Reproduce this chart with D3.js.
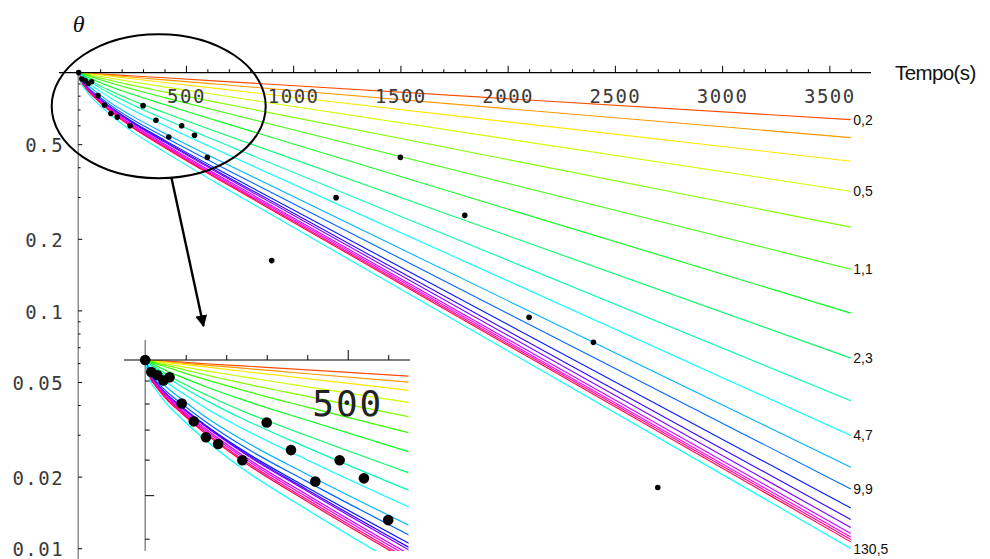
<!DOCTYPE html>
<html>
<head>
<meta charset="utf-8">
<script src="https://cdn.jsdelivr.net/npm/d3@7"></script>
<style>
  html, body { margin: 0; padding: 0; background: #fff; }
  svg { display: block; }
</style>
</head>
<body>
<svg id="chart" width="990" height="559"></svg>
<script>
// Sampling instants (s) shared by every cooling curve
const times = [0, 12, 25, 50, 90, 150, 240, 400, 650, 3600];

// Dimensionless temperature θ of each curve at the instants above
const curves = [
  [1, 0.998, 0.997, 0.994, 0.989, 0.981, 0.970, 0.951, 0.921, 0.634],
  [1, 0.998, 0.996, 0.991, 0.984, 0.974, 0.959, 0.932, 0.893, 0.533],
  [1, 0.997, 0.994, 0.988, 0.979, 0.965, 0.944, 0.909, 0.856, 0.424],
  [1, 0.996, 0.991, 0.981, 0.967, 0.946, 0.918, 0.871, 0.805, 0.317],
  [1, 0.994, 0.987, 0.974, 0.954, 0.926, 0.888, 0.830, 0.748, 0.224],
  [1, 0.992, 0.983, 0.966, 0.940, 0.904, 0.857, 0.785, 0.689, 0.149],
  [1, 0.987, 0.973, 0.949, 0.916, 0.872, 0.816, 0.734, 0.625, 0.0974],
  [1, 0.982, 0.963, 0.932, 0.890, 0.837, 0.770, 0.678, 0.561, 0.0630],
  [1, 0.979, 0.957, 0.921, 0.873, 0.813, 0.740, 0.638, 0.513, 0.0417],
  [1, 0.961, 0.936, 0.896, 0.846, 0.781, 0.704, 0.599, 0.471, 0.0298],
  [1, 0.951, 0.921, 0.874, 0.818, 0.746, 0.664, 0.556, 0.429, 0.0219],
  [1, 0.932, 0.902, 0.855, 0.799, 0.728, 0.644, 0.536, 0.408, 0.01775],
  [1, 0.924, 0.894, 0.845, 0.787, 0.715, 0.630, 0.520, 0.391, 0.01477],
  [1, 0.924, 0.893, 0.844, 0.785, 0.712, 0.626, 0.514, 0.383, 0.0132],
  [1, 0.924, 0.893, 0.843, 0.784, 0.710, 0.623, 0.510, 0.378, 0.01222],
  [1, 0.920, 0.887, 0.838, 0.776, 0.702, 0.614, 0.501, 0.370, 0.01153],
  [1, 0.918, 0.884, 0.833, 0.771, 0.696, 0.608, 0.495, 0.365, 0.01115],
  [1, 0.915, 0.880, 0.827, 0.766, 0.689, 0.601, 0.489, 0.360, 0.01088],
  [1, 0.912, 0.877, 0.823, 0.761, 0.684, 0.596, 0.484, 0.356, 0.01063],
  [1, 0.901, 0.863, 0.805, 0.740, 0.662, 0.573, 0.464, 0.340, 0.00997]
];

// Biot number written at the end of some curves
const curveLabels = ["0,2", "", "", "0,5", "", "1,1", "", "2,3", "", "4,7",
                     "", "9,9", "", "", "", "", "", "", "", "130,5"];

// Measured points
const sampleTimes = [0, 15, 30, 45, 60, 90, 120, 150, 180, 240, 300, 360, 420,
                     480, 540, 600, 900, 1200, 1500, 1800, 2100, 2400, 2700];
const sampleTheta = [1, 0.94, 0.925, 0.90, 0.915, 0.80, 0.73, 0.673, 0.65, 0.598,
                     0.726, 0.63, 0.536, 0.598, 0.545, 0.44, 0.162, 0.298, 0.44,
                     0.251, 0.0935, 0.0734, 0.018];

// Axis ticks
const xTickValues = [500, 1000, 1500, 2000, 2500, 3000, 3500];
const xMinorTicks = d3.range(100, 3700, 100).filter(v => v % 500 !== 0);
const yTickValues = [0.5, 0.2, 0.1, 0.05, 0.02, 0.01];
const yMinorTicks = [0.9, 0.8, 0.7, 0.6, 0.4, 0.3, 0.09, 0.08, 0.07, 0.06, 0.04, 0.03];
const insetXTicks = [100, 200, 300, 400, 500, 600];
const insetYTicks = [0.9, 0.8, 0.7, 0.6, 0.5, 0.4];

// Colour of each curve: a hue wheel stepping 18°, last curve in cyan
const curveColor = (i) => i === curves.length - 1 ? "#00ffff" : d3.hsl(18 * (i + 1), 1, 0.5).toString();

const svg = d3.select("#chart");
const monoFont = "'DejaVu Sans Mono', monospace";

// ---------- Main plot scales ----------
const x = d3.scaleLinear().domain([0, 3600]).range([78.7, 850.8]);
const y = d3.scaleLog().domain([1, 0.01]).range([72.6, 548.2]);

// Curve path: smooth early part, straight exponential tail
function curvePath(xs, ys, values) {
  const pts = times.map((t, j) => [xs(t), ys(values[j])]);
  const head = d3.line().curve(d3.curveMonotoneX)(pts.slice(0, pts.length - 1));
  const last = pts[pts.length - 1];
  return head + "L" + last[0] + "," + last[1];
}

const main = svg.append("g");

// Curves
main.append("g").selectAll("path")
  .data(curves)
  .join("path")
  .attr("d", d => curvePath(x, y, d))
  .attr("fill", "none")
  .attr("stroke", (d, i) => curveColor(i))
  .attr("stroke-width", 1.1);

// End labels
main.append("g").selectAll("text")
  .data(curves.map((d, i) => ({ v: d[d.length - 1], label: curveLabels[i] })).filter(d => d.label))
  .join("text")
  .attr("x", x(3600) + 2.5)
  .attr("y", d => y(d.v) + 5)
  .attr("font-family", "'Liberation Sans', Arial, sans-serif")
  .attr("font-size", 14)
  .attr("fill", "#111")
  .text(d => d.label);

// X axis
main.append("line")
  .attr("x1", 59).attr("x2", 871)
  .attr("y1", y(1)).attr("y2", y(1))
  .attr("stroke", "#000").attr("stroke-width", 1.1);

const xMinorAxis = main.append("g").attr("transform", `translate(0,${y(1)})`)
  .call(d3.axisBottom(x).tickValues(xMinorTicks).tickSizeInner(-3.4).tickSizeOuter(0).tickFormat(""));
xMinorAxis.select(".domain").remove();
xMinorAxis.selectAll("line").attr("stroke", "#000");

const xMajorAxis = main.append("g").attr("transform", `translate(0,${y(1)})`)
  .call(d3.axisBottom(x).tickValues(xTickValues).tickSizeInner(-6.8).tickSizeOuter(0).tickPadding(17.4)
    .tickFormat(d3.format("d")));
xMajorAxis.select(".domain").remove();
xMajorAxis.selectAll("line").attr("stroke", "#000");
xMajorAxis.selectAll("text")
  .attr("font-family", monoFont).attr("font-size", 19)
  .attr("letter-spacing", 1.5).attr("fill", "#3a3a3a");

// Y axis
main.append("line")
  .attr("x1", x(0) - 0.5).attr("x2", x(0) - 0.5)
  .attr("y1", y(1)).attr("y2", 559)
  .attr("stroke", "#808080").attr("stroke-width", 1.3);

const yMinorAxis = main.append("g").attr("transform", `translate(${x(0) - 0.5},0)`)
  .call(d3.axisLeft(y).tickValues(yMinorTicks).tickSizeInner(-2.4).tickSizeOuter(0).tickFormat(""));
yMinorAxis.select(".domain").remove();
yMinorAxis.selectAll("line").attr("stroke", "#000");

const yMajorAxis = main.append("g").attr("transform", `translate(${x(0) - 0.5},0)`)
  .call(d3.axisLeft(y).tickValues(yTickValues).tickSizeInner(-4).tickSizeOuter(0).tickPadding(14)
    .tickFormat(d => String(d)));
yMajorAxis.select(".domain").remove();
yMajorAxis.selectAll("line").attr("stroke", "#000");
yMajorAxis.selectAll("text")
  .attr("font-family", monoFont).attr("font-size", 19)
  .attr("letter-spacing", 1.5).attr("fill", "#3a3a3a")
  .attr("dy", "0.4em");

// Measured points
main.append("g").selectAll("circle")
  .data(sampleTimes.map((t, i) => [t, sampleTheta[i]]))
  .join("circle")
  .attr("cx", d => x(d[0]))
  .attr("cy", d => y(d[1]))
  .attr("r", 2.8)
  .attr("fill", "#000");

// Axis titles
svg.append("text")
  .attr("x", x(0)).attr("y", 32)
  .attr("text-anchor", "middle")
  .attr("font-family", "'Liberation Serif', 'DejaVu Serif', serif")
  .attr("font-style", "italic")
  .attr("font-size", 24)
  .attr("fill", "#111")
  .text("θ");

svg.append("text")
  .attr("x", 895).attr("y", 80)
  .attr("font-family", "'Liberation Sans', Arial, sans-serif")
  .attr("font-size", 20.5)
  .attr("letter-spacing", -0.6)
  .attr("fill", "#111")
  .text("Tempo(s)");

// ---------- Zoomed view of the first 650 s ----------
const xi = d3.scaleLinear().domain([0, 650]).range([145.2, 408.5]);
const yi = d3.scaleLog().domain([1, 0.1]).range([360, 809]);
const insetBottom = 551;

svg.append("clipPath").attr("id", "inset-clip")
  .append("rect")
  .attr("x", xi(0)).attr("y", 330)
  .attr("width", xi(650) - xi(0)).attr("height", insetBottom - 330);

const inset = svg.append("g");

inset.append("g").attr("clip-path", "url(#inset-clip)")
  .selectAll("path")
  .data(curves)
  .join("path")
  .attr("d", d => curvePath(xi, yi, d))
  .attr("fill", "none")
  .attr("stroke", (d, i) => curveColor(i))
  .attr("stroke-width", 1.2);

// Inset x axis
inset.append("line")
  .attr("x1", 124).attr("x2", 410)
  .attr("y1", yi(1)).attr("y2", yi(1))
  .attr("stroke", "#000").attr("stroke-width", 1.1);
const ixAxis = inset.append("g").attr("transform", `translate(0,${yi(1)})`)
  .call(d3.axisBottom(xi).tickValues(insetXTicks).tickSizeInner(-5).tickSizeOuter(0).tickFormat(""));
ixAxis.select(".domain").remove();
ixAxis.selectAll("line").attr("stroke", "#000")
  .attr("y2", d => d === 500 ? -10 : -5);

inset.append("text")
  .attr("x", xi(500)).attr("y", 416)
  .attr("text-anchor", "middle")
  .attr("font-family", monoFont)
  .attr("font-size", 36)
  .attr("letter-spacing", 2)
  .attr("fill", "#222")
  .text("500");

// Inset y axis
inset.append("line")
  .attr("x1", xi(0)).attr("x2", xi(0))
  .attr("y1", 340).attr("y2", insetBottom)
  .attr("stroke", "#777").attr("stroke-width", 1.3);
const iyAxis = inset.append("g").attr("transform", `translate(${xi(0)},0)`)
  .call(d3.axisLeft(yi).tickValues(insetYTicks).tickSizeInner(-4.5).tickSizeOuter(0).tickFormat(""));
iyAxis.select(".domain").remove();
iyAxis.selectAll("line").attr("stroke", "#000")
  .attr("x2", d => d === 0.5 ? 9 : 4.5);

// Inset points
inset.append("g").selectAll("circle")
  .data(sampleTimes.map((t, i) => [t, sampleTheta[i]]).filter(d => d[0] <= 650))
  .join("circle")
  .attr("cx", d => xi(d[0]))
  .attr("cy", d => yi(d[1]))
  .attr("r", 5.3)
  .attr("fill", "#000");

// ---------- Ellipse and arrow pointing to the zoomed view ----------
svg.append("defs").append("marker")
  .attr("id", "arrow-head")
  .attr("viewBox", "0 0 10 10")
  .attr("refX", 9).attr("refY", 5)
  .attr("markerWidth", 5).attr("markerHeight", 5)
  .attr("markerUnits", "strokeWidth")
  .attr("orient", "auto")
  .append("path")
  .attr("d", "M0,0 L10,5 L0,10 Z")
  .attr("fill", "#000");

svg.append("ellipse")
  .attr("cx", 158.7).attr("cy", 106.2)
  .attr("rx", 107).attr("ry", 72)
  .attr("fill", "none")
  .attr("stroke", "#000")
  .attr("stroke-width", 2);

svg.append("line")
  .attr("x1", 171.5).attr("y1", 178)
  .attr("x2", 203.5).attr("y2", 326)
  .attr("stroke", "#000")
  .attr("stroke-width", 2.4)
  .attr("marker-end", "url(#arrow-head)");
</script>
</body>
</html>
